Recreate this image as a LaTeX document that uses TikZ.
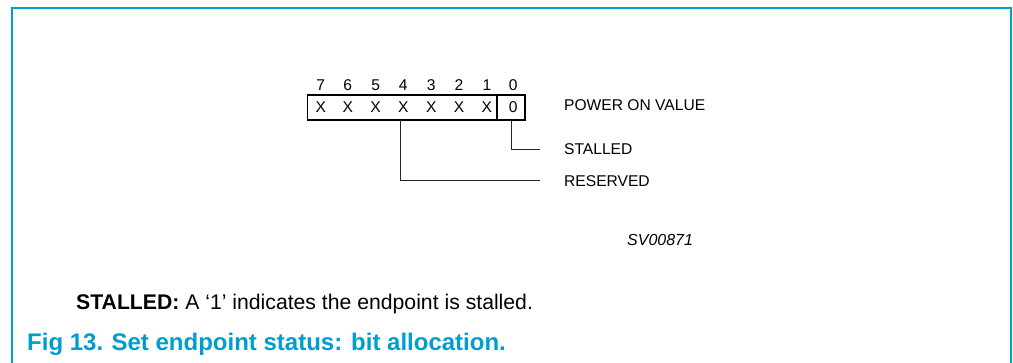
\documentclass[tikz,border=0pt]{standalone}
\usepackage{fontspec}
\setmainfont{Liberation Sans}
\usetikzlibrary{positioning, calc}
\definecolor{figcyan}{RGB}{0,157,205}

\begin{document}
\begin{tikzpicture}[x=1pt, y=-1pt, font=\fontsize{15.6}{18}\selectfont,
  regbox/.style={draw, line width=1.9pt, inner sep=0pt},
  lbl/.style={anchor=base west, inner sep=0pt},
  lead/.style={line width=0.9pt, black!85}]

  \useasboundingbox (0,0) rectangle (1013,363);

  % Frame
  \draw[figcyan, line width=1.6pt] (12,363) -- (12,8) -- (1011,8) -- (1011,363);

  % Register
  \node[regbox, minimum width=217pt, minimum height=25pt] (reg) at (416,107.5) {};
  \node[regbox, minimum width=28pt, minimum height=25pt] (bitz) at (511,107.5) {};

  % Bit numbers and values
  \foreach \i/\x in {7/320.7, 6/347.8, 5/375.6, 4/403.3, 3/431.2, 2/459.0, 1/486.9} {
    \node[anchor=base, inner sep=0pt] (n\i) at (\x,90.5) {\i};
    \node[anchor=base, inner sep=0pt] (v\i) at (\x,112.5) {X};
  }
  \node[anchor=base, inner sep=0pt] (n0) at (513.3,90.5) {0};
  \node[anchor=base, inner sep=0pt] (v0) at (513.3,112.5) {0};

  % Labels
  \node[lbl] (pov) at (564,110.5) {POWER ON VALUE};
  \node[lbl] (stl) at (564,154.5) {STALLED};
  \node[lbl] (rsv) at (564,186.5) {RESERVED};
  \coordinate (stle) at (540,149);
  \coordinate (rsve) at (540,180);
  \coordinate (rtop) at (400,120);

  % Leaders
  \draw[lead] (bitz.south) |- (stle);
  \draw[lead] (rtop) |- (rsve);

  \node[lbl, font=\fontsize{16}{19}\itshape] (code) at (627,246) {SV00871};

  % Notes and caption
  \node[lbl, font=\fontsize{21.2}{25}\selectfont] (note) at (76,309.5)
    {\textbf{STALLED:} A ‘1’ indicates the endpoint is stalled.};
  \node[lbl, font=\fontsize{24}{28}\bfseries, text=figcyan] (cap) at (27,351)
    {Fig 13.\hspace{0.35em}Set endpoint status: bit allocation.};

\end{tikzpicture}
\end{document}
